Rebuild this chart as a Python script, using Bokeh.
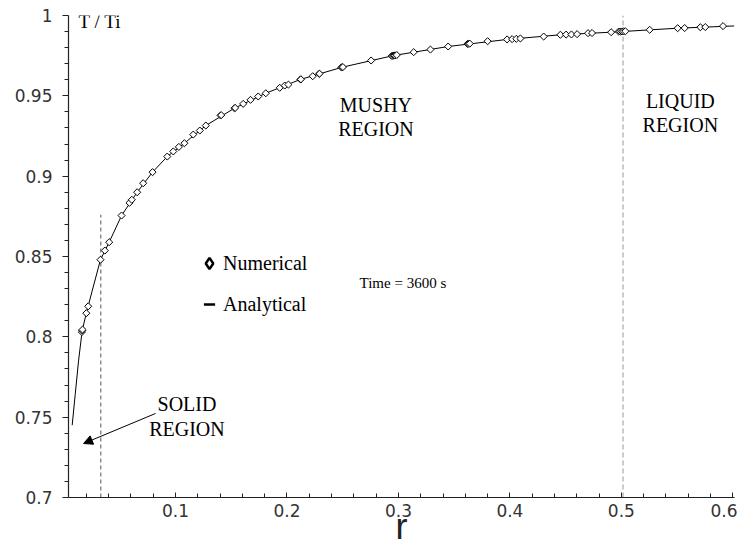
import math
from bokeh.plotting import figure
from bokeh.models import (FixedTicker, NumeralTickFormatter, Label, Arrow, NormalHead,
                          Legend, LegendItem)
from bokeh.embed import file_html
from bokeh.resources import INLINE

# ---------------- data ----------------
num_r = [0.0160, 0.0163, 0.0166, 0.0200, 0.0217, 0.0327, 0.0366, 0.0405, 0.0516, 0.0587,
         0.0608, 0.0656, 0.0710, 0.0794, 0.0926, 0.0980, 0.1030, 0.1080, 0.1159, 0.1218,
         0.1272, 0.1404, 0.1410, 0.1529, 0.1535, 0.1607, 0.1673, 0.1742, 0.1810, 0.1935,
         0.1980, 0.2013, 0.2121, 0.2125, 0.2231, 0.2289, 0.2292, 0.2488, 0.2495, 0.2502,
         0.2755, 0.2940, 0.2950, 0.2960, 0.2970, 0.2985, 0.3137, 0.3287, 0.3446, 0.3620,
         0.3630, 0.3640, 0.3800, 0.3975, 0.4020, 0.4058, 0.4094, 0.4303, 0.4453, 0.4504,
         0.4552, 0.4603, 0.4701, 0.4737, 0.4908, 0.4976, 0.4990, 0.5005, 0.5020, 0.5036,
         0.5254, 0.5505, 0.5568, 0.5709, 0.5753, 0.5912]
num_T = [0.8030, 0.8040, 0.8045, 0.8147, 0.8190, 0.8480, 0.8537, 0.8589, 0.8755, 0.8834,
         0.8853, 0.8900, 0.8956, 0.9025, 0.9122, 0.9154, 0.9182, 0.9205, 0.9259, 0.9284,
         0.9315, 0.9378, 0.9380, 0.9423, 0.9425, 0.9450, 0.9475, 0.9496, 0.9516, 0.9550,
         0.9564, 0.9570, 0.9602, 0.9603, 0.9622, 0.9637, 0.9638, 0.9677, 0.9678, 0.9679,
         0.9720, 0.9748, 0.9749, 0.9751, 0.9752, 0.9754, 0.9772, 0.9788, 0.9807, 0.9823,
         0.9824, 0.9825, 0.9840, 0.9851, 0.9853, 0.9855, 0.9857, 0.9869, 0.9880, 0.9881,
         0.9882, 0.9884, 0.9890, 0.9891, 0.9896, 0.9900, 0.9900, 0.9901, 0.9901, 0.9902,
         0.9911, 0.9921, 0.9922, 0.9927, 0.9928, 0.9934]

ana_r = [0.0073, 0.0100, 0.0130, 0.0163, 0.0200, 0.0250, 0.0327, 0.0405, 0.0516, 0.0656,
         0.0794, 0.0926, 0.1080, 0.1272, 0.1529, 0.1810, 0.2121, 0.2495, 0.2958, 0.3446,
         0.3975, 0.4453, 0.4908, 0.5505, 0.6013]
ana_T = [0.7450, 0.7640, 0.7850, 0.8040, 0.8147, 0.8280, 0.8480, 0.8589, 0.8755, 0.8900,
         0.9025, 0.9122, 0.9205, 0.9315, 0.9423, 0.9516, 0.9602, 0.9678, 0.9751, 0.9807,
         0.9851, 0.9880, 0.9896, 0.9921, 0.9935]

# region boundaries (solid/mushy, mushy/liquid)
boundary_r = [0.033, 0.5015]
boundary_bottom = [0.7, 0.7]
boundary_top = [0.876, 1.0]

x_ticks = [0.1, 0.2, 0.3, 0.4, 0.5, 0.6]
x_minor = [0.02, 0.04, 0.06, 0.08, 0.12, 0.14, 0.16, 0.18, 0.22, 0.24, 0.26, 0.28,
           0.32, 0.34, 0.36, 0.38, 0.42, 0.44, 0.46, 0.48, 0.52, 0.54, 0.56, 0.58]
y_ticks = [0.7, 0.75, 0.8, 0.85, 0.9, 0.95, 1.0]
y_minor = [0.71, 0.72, 0.73, 0.74, 0.76, 0.77, 0.78, 0.79, 0.81, 0.82, 0.83, 0.84,
           0.86, 0.87, 0.88, 0.89, 0.91, 0.92, 0.93, 0.94, 0.96, 0.97, 0.98, 0.99]

nan = float("nan")

# ---------------- figure ----------------
p = figure(width=737, height=550, x_range=(0.004, 0.6015), y_range=(0.7, 1.0),
           output_backend="svg", toolbar_location=None, title=None,
           min_border_left=68, min_border_right=3, min_border_top=15, min_border_bottom=53)
p.xgrid.visible = False
p.ygrid.visible = False
p.outline_line_color = None

for ax in (p.xaxis[0], p.yaxis[0]):
    ax.axis_line_color = "#222222"
    ax.axis_line_width = 1.2
    ax.major_tick_line_color = "#222222"
    ax.minor_tick_line_color = "#222222"
    ax.major_label_text_font = "DejaVu Sans"
    ax.major_label_text_font_size = "17px"
    ax.major_label_text_color = "#333333"

p.xaxis.ticker = FixedTicker(ticks=x_ticks, minor_ticks=x_minor)
p.xaxis.formatter = NumeralTickFormatter(format="0.[0]")
p.xaxis.major_tick_in = 5
p.xaxis.major_tick_out = 0
p.xaxis.minor_tick_in = 4
p.xaxis.minor_tick_out = 0
p.xaxis.major_label_standoff = 6
p.xaxis.axis_label = "r"
p.xaxis.axis_label_text_font = "Liberation Sans"
p.xaxis.axis_label_text_font_size = "36px"
p.xaxis.axis_label_text_font_style = "normal"
p.xaxis.axis_label_text_color = "#222222"
p.xaxis.axis_label_standoff = -14

p.yaxis.ticker = FixedTicker(ticks=y_ticks, minor_ticks=y_minor)
p.yaxis.formatter = NumeralTickFormatter(format="0.[00]")
p.yaxis.major_tick_in = 0
p.yaxis.major_tick_out = 6
p.yaxis.minor_tick_in = 0
p.yaxis.minor_tick_out = 4
p.yaxis.major_label_standoff = 10

# boundaries
p.segment(x0=boundary_r[0:1], y0=boundary_bottom[0:1], x1=boundary_r[0:1], y1=boundary_top[0:1],
          line_color="#555555", line_width=1, line_dash="4 3")
p.segment(x0=boundary_r[1:2], y0=boundary_bottom[1:2], x1=boundary_r[1:2], y1=boundary_top[1:2],
          line_color="#bbbbbb", line_width=1.5, line_dash="5 3")

# analytical curve and numerical points
p.line(ana_r, ana_T, line_color="black", line_width=1)
p.scatter(num_r, num_T, marker="square", angle=math.pi / 4, size=5,
          fill_color="white", line_color="black", line_width=1)

# legend proxies (bigger symbols, as in the reference); NaN data so nothing is plotted
leg_num = p.scatter(x=[nan], y=[nan], marker="diamond", size=12,
                    fill_color="white", line_color="black", line_width=2.5)
leg_ana = p.scatter(x=[nan], y=[nan], marker="dash", size=12,
                    line_color="black", line_width=2.5)
legend = Legend(items=[LegendItem(label="Numerical", renderers=[leg_num]),
                       LegendItem(label="Analytical", renderers=[leg_ana])],
                location=(127, 177), orientation="vertical",
                glyph_width=28, glyph_height=32, label_height=32, label_standoff=0,
                spacing=9, padding=0, margin=0,
                border_line_color=None, background_fill_alpha=0,
                label_text_font="Liberation Serif", label_text_font_size="20px",
                label_text_color="black")
p.add_layout(legend)

serif = "Liberation Serif"
p.add_layout(Label(x=0.013, y=0.996, text="T / Ti", text_font=serif, text_font_size="19px",
                   text_align="left", text_baseline="middle", text_color="black"))
p.add_layout(Label(x=0.2798, y=0.9368, text="MUSHY\nREGION", text_font=serif,
                   text_font_size="20px", text_align="center", text_baseline="middle",
                   text_line_height=1.1, text_color="black"))
p.add_layout(Label(x=0.5529, y=0.9393, text="LIQUID\nREGION", text_font=serif,
                   text_font_size="20px", text_align="center", text_baseline="middle",
                   text_line_height=1.1, text_color="black"))
p.add_layout(Label(x=0.1103, y=0.7504, text="SOLID\nREGION", text_font=serif,
                   text_font_size="20px", text_align="center", text_baseline="middle",
                   text_line_height=1.1, text_color="black"))
p.add_layout(Label(x=0.304, y=0.8338, text="Time = 3600 s", text_font=serif,
                   text_font_size="15px", text_align="center", text_baseline="middle",
                   text_color="black"))

p.add_layout(Arrow(end=NormalHead(size=9, fill_color="black", line_color="black"),
                   x_start=0.0821, y_start=0.7523, x_end=0.0175, y_end=0.7336,
                   line_color="black", line_width=1))

open("out.html", "w").write(file_html(p, INLINE))
